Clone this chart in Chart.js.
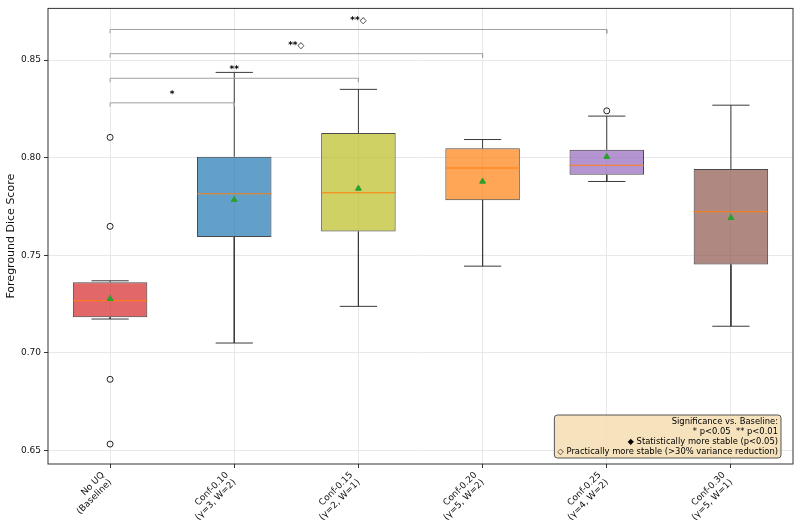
<!DOCTYPE html>
<html>
<head>
<meta charset="utf-8">
<script src="https://cdn.jsdelivr.net/npm/chart.js@4.4.1/dist/chart.umd.min.js"></script>
<style>
  body { margin: 0; background: #fff; }
</style>
</head>
<body>
<canvas id="boxChart" width="800" height="531"></canvas>
<script>
// categories (two-line tick labels)
const categories = [
    ['No UQ', '(Baseline)'],
    ['Conf-0.10', '(γ=3, W=2)'],
    ['Conf-0.15', '(γ=2, W=1)'],
    ['Conf-0.20', '(γ=5, W=2)'],
    ['Conf-0.25', '(γ=4, W=2)'],
    ['Conf-0.30', '(γ=5, W=1)']
];

// box plot stats
const whiskerLow  = [0.7173, 0.7050, 0.7238, 0.7444, 0.7878, 0.7136];
const q1          = [0.7182, 0.7593, 0.7621, 0.7782, 0.7912, 0.7453];
const medians     = [0.7267, 0.7815, 0.7820, 0.7947, 0.7961, 0.7723];
const q3          = [0.7362, 0.8005, 0.8126, 0.8048, 0.8040, 0.7942];
const whiskerHigh = [0.7369, 0.8437, 0.8350, 0.8093, 0.8213, 0.8269];
const means       = [0.7277, 0.7784, 0.7842, 0.7878, 0.8005, 0.7692];
const outliers    = [[0.8104, 0.7648, 0.6864, 0.6532], [], [], [], [0.8240], []];

const boxColors = ['#d62728', '#1f77b4', '#bcbd22', '#ff7f0e', '#9467bd', '#8c564b'];

// significance brackets vs baseline
const sigPairs   = [[0, 1], [0, 2], [0, 3], [0, 4]];
const sigHeights = [0.8281, 0.8407, 0.8533, 0.8657];
const sigLabels  = ['*', '**', '**◇', '**◇'];

const yTicks = [0.65, 0.70, 0.75, 0.80, 0.85];

const noteLines = [
    'Significance vs. Baseline:',
    '* p<0.05  ** p<0.01',
    '◆ Statistically more stable (p<0.05)',
    '◇ Practically more stable (>30% variance reduction)'
];

const FONT = 'DejaVu Sans';

function alpha(hex, a) {
    const n = parseInt(hex.slice(1), 16);
    return `rgba(${n >> 16}, ${(n >> 8) & 255}, ${n & 255}, ${a})`;
}

// turn a list of [x0, y0, x1, y1] into points with gaps between segments
function segments(list) {
    const pts = [];
    list.forEach(([x0, y0, x1, y1]) => {
        pts.push({ x: x0, y: y0 }, { x: x1, y: y1 }, { x: x1, y: null });
    });
    return pts;
}

const whiskerSegs = [];
const capSegs = [];
const medianSegs = [];
categories.forEach((c, i) => {
    whiskerSegs.push([i, q3[i], i, whiskerHigh[i]], [i, q1[i], i, whiskerLow[i]]);
    capSegs.push([i - 0.15, whiskerHigh[i], i + 0.15, whiskerHigh[i]],
                 [i - 0.15, whiskerLow[i], i + 0.15, whiskerLow[i]]);
    medianSegs.push([i - 0.3, medians[i], i + 0.3, medians[i]]);
});

const bracketPts = [];
const drop = 0.002;
sigPairs.forEach(([a, b], k) => {
    const h = sigHeights[k];
    bracketPts.push({ x: a, y: h - drop }, { x: a, y: h }, { x: b, y: h }, { x: b, y: h - drop }, { x: b, y: null });
});

const outlierPts = [];
outliers.forEach((vals, i) => vals.forEach(v => outlierPts.push({ x: i, y: v })));

function lineSet(data, color, order) {
    return {
        type: 'line', data,
        borderColor: color, borderWidth: 1, pointRadius: 0,
        fill: false, tension: 0, spanGaps: false, order
    };
}

const frameAndNotes = {
    id: 'frameAndNotes',
    afterDraw(chart) {
        const { ctx, chartArea: area, scales } = chart;
        ctx.save();
        // axes frame
        ctx.strokeStyle = '#333';
        ctx.lineWidth = 1;
        ctx.strokeRect(area.left, area.top, area.right - area.left, area.bottom - area.top);

        // bracket labels
        ctx.fillStyle = '#000';
        ctx.font = `bold 9px "${FONT}"`;
        ctx.textAlign = 'center';
        ctx.textBaseline = 'alphabetic';
        sigPairs.forEach(([a, b], k) => {
            const x = scales.x.getPixelForValue((a + b) / 2);
            const y = scales.y.getPixelForValue(sigHeights[k]);
            ctx.fillText(sigLabels[k], x, y - 6);
        });

        // note box
        ctx.font = `8.4px "${FONT}"`;
        const lh = 10;
        const pad = 3;
        const w = Math.max(...noteLines.map(t => ctx.measureText(t).width)) + pad * 2;
        const h = noteLines.length * lh + 3;
        const right = area.right - 12;
        const bottom = area.bottom - 6;
        ctx.beginPath();
        if (ctx.roundRect) ctx.roundRect(right - w, bottom - h, w, h, 3);
        else ctx.rect(right - w, bottom - h, w, h);
        ctx.fillStyle = 'rgba(245, 222, 179, 0.85)';
        ctx.fill();
        ctx.strokeStyle = '#555';
        ctx.stroke();
        ctx.fillStyle = '#000';
        ctx.textAlign = 'right';
        ctx.textBaseline = 'middle';
        noteLines.forEach((t, i) => {
            ctx.fillText(t, right - pad, bottom - h + 1.5 + lh / 2 + i * lh);
        });
        ctx.restore();
    }
};

new Chart(document.getElementById('boxChart'), {
    type: 'scatter',
    data: {
        datasets: [
            {
                type: 'bar',
                data: categories.map((c, i) => ({ x: i, y: [q1[i], q3[i]] })),
                backgroundColor: boxColors.map(c => alpha(c, 0.7)),
                borderColor: '#4a4a4a',
                borderWidth: 1,
                borderSkipped: false,
                barPercentage: 0.6,
                categoryPercentage: 1,
                order: 6
            },
            lineSet(segments(whiskerSegs), '#3a3a3a', 5),
            lineSet(segments(capSegs), '#3a3a3a', 4),
            lineSet(segments(medianSegs), '#ff7f0e', 3),
            lineSet(bracketPts, '#a0a0a0', 3),
            {
                type: 'scatter',
                data: means.map((m, i) => ({ x: i, y: m })),
                pointStyle: 'triangle', pointRadius: 3.4,
                pointBackgroundColor: '#2ca02c', pointBorderColor: '#2ca02c', pointBorderWidth: 1,
                order: 2
            },
            {
                type: 'scatter',
                data: outlierPts,
                pointStyle: 'circle', pointRadius: 3,
                pointBackgroundColor: 'rgba(0,0,0,0)', pointBorderColor: '#222', pointBorderWidth: 1,
                order: 1
            }
        ]
    },
    options: {
        responsive: false,
        animation: false,
        devicePixelRatio: 1,
        layout: { padding: { left: 0, right: 7, top: 6, bottom: 0 } },
        plugins: { legend: { display: false }, tooltip: { enabled: false } },
        scales: {
            x: {
                type: 'linear',
                min: -0.5, max: 5.5,
                offset: false,
                border: { display: false },
                grid: { offset: false, color: '#e8e8e8', tickColor: '#333', tickLength: 4 },
                afterBuildTicks(s) { s.ticks = categories.map((c, i) => ({ value: i })); },
                ticks: {
                    font: { family: FONT, size: 9, lineHeight: 1.15 },
                    color: '#111',
                    minRotation: 45, maxRotation: 45,
                    autoSkip: false,
                    padding: 2,
                    labelOffset: -7,
                    callback: v => categories[v]
                },
                afterFit(s) { s.height = 67; }
            },
            y: {
                type: 'linear',
                min: 0.643, max: 0.8765,
                border: { display: false },
                grid: { color: '#e8e8e8', tickColor: '#333', tickLength: 4 },
                afterBuildTicks(s) { s.ticks = yTicks.map(v => ({ value: v })); },
                ticks: {
                    font: { family: FONT, size: 9 },
                    color: '#111',
                    padding: 3,
                    callback: v => Number(v).toFixed(2)
                },
                title: {
                    display: true,
                    text: 'Foreground Dice Score',
                    font: { family: FONT, size: 11 },
                    color: '#111',
                    padding: { top: 5, bottom: 0 }
                },
                afterFit(s) { s.width = 48; }
            }
        }
    },
    plugins: [frameAndNotes]
});
</script>
</body>
</html>
